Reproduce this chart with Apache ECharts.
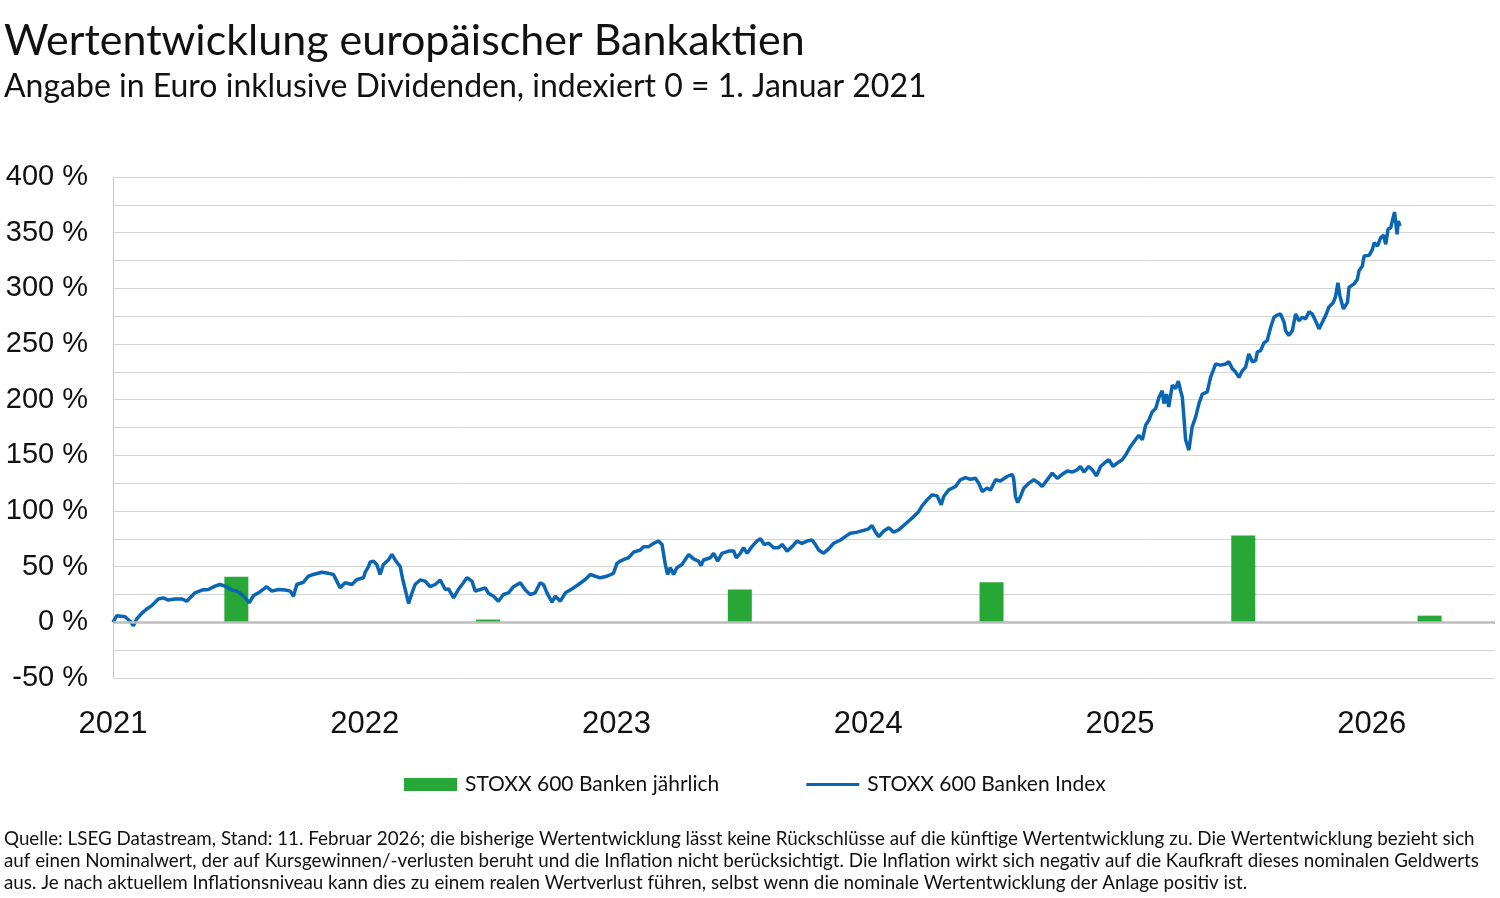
<!DOCTYPE html>
<html>
<head>
<meta charset="utf-8">
<script src="https://cdn.jsdelivr.net/npm/echarts@6/dist/echarts.min.js"></script>
<style>
html,body{margin:0;padding:0;background:#fff;}
#c{width:1500px;height:898px;}
</style>
</head>
<body>
<div id="c"></div>
<script>
// time as fractional years, values in % (indexed 0 = 1 Jan 2021)
const index2021 = [[2021.000,0],[2021.005,1],[2021.015,6],[2021.048,5],[2021.068,1],[2021.081,-3],[2021.094,3],[2021.114,8],[2021.134,12],[2021.154,15],[2021.180,21],[2021.200,22],[2021.220,20],[2021.246,21],[2021.273,21],[2021.293,19],[2021.306,22],[2021.326,26.5],[2021.353,29],[2021.379,29.5],[2021.405,32.5],[2021.425,34],[2021.445,32.5],[2021.472,29],[2021.492,28],[2021.512,25],[2021.525,22],[2021.541,17.6],[2021.558,24],[2021.578,26.5],[2021.611,32],[2021.631,28],[2021.657,29.5],[2021.684,29],[2021.704,28],[2021.717,23.5],[2021.730,34],[2021.756,36],[2021.776,41.4],[2021.796,43],[2021.829,45],[2021.856,44],[2021.876,43],[2021.889,37],[2021.902,31],[2021.922,35.5],[2021.949,34],[2021.969,38.5],[2021.995,40]];
const index2022 = [[2022.002,45],[2022.015,50],[2022.021,54],[2022.035,55],[2022.048,52],[2022.061,43],[2022.074,52],[2022.094,56],[2022.108,61],[2022.121,56],[2022.141,50],[2022.151,38.5],[2022.161,29.5],[2022.174,17],[2022.188,26.5],[2022.200,34],[2022.220,38],[2022.240,37],[2022.260,32],[2022.280,34],[2022.300,38],[2022.320,29.5],[2022.333,30],[2022.353,22],[2022.372,29.5],[2022.392,35.5],[2022.406,40],[2022.426,37],[2022.439,28],[2022.459,29.5],[2022.479,31],[2022.492,26],[2022.512,23.5],[2022.531,19],[2022.551,25],[2022.571,26.5],[2022.591,32],[2022.618,35.5],[2022.638,29],[2022.657,25],[2022.677,26.5],[2022.697,35.5],[2022.710,34],[2022.724,26.5],[2022.744,18],[2022.757,23.5],[2022.777,19],[2022.797,26.5],[2022.823,30],[2022.849,34],[2022.876,38.5],[2022.896,43],[2022.916,41.4],[2022.936,40],[2022.962,41.4],[2022.988,44]];
const index2023 = [[2023.002,53],[2023.015,55],[2023.035,57],[2023.048,58],[2023.068,63],[2023.095,65],[2023.108,68],[2023.128,68],[2023.148,71],[2023.167,73],[2023.181,70],[2023.194,52],[2023.203,43],[2023.214,49],[2023.227,43],[2023.240,49],[2023.260,52],[2023.287,61],[2023.306,57],[2023.326,55],[2023.336,51],[2023.346,56],[2023.373,58],[2023.386,62],[2023.402,55],[2023.419,62],[2023.446,64],[2023.466,64],[2023.476,58],[2023.492,62],[2023.505,67],[2023.519,62],[2023.538,68],[2023.558,73],[2023.572,75],[2023.587,70],[2023.605,71],[2023.624,67],[2023.644,67],[2023.658,70],[2023.678,64],[2023.698,68],[2023.717,73],[2023.737,71],[2023.757,73],[2023.777,74],[2023.790,70],[2023.803,65],[2023.823,62],[2023.843,66],[2023.863,71],[2023.890,74],[2023.909,77],[2023.929,80],[2023.956,81],[2023.982,82.6]];
const index2024 = [[2024.002,84],[2024.015,87],[2024.029,81],[2024.042,77],[2024.062,82],[2024.082,85],[2024.101,81],[2024.121,83],[2024.141,87],[2024.161,91],[2024.181,95],[2024.201,99.6],[2024.214,104.7],[2024.234,110],[2024.254,114.5],[2024.274,113.6],[2024.290,105.6],[2024.300,113],[2024.320,119],[2024.347,122],[2024.366,128],[2024.386,130],[2024.406,128.5],[2024.426,129.4],[2024.439,125],[2024.453,117.5],[2024.472,120.5],[2024.486,119],[2024.506,128],[2024.525,127],[2024.552,131],[2024.572,133],[2024.578,129],[2024.585,113],[2024.594,107.6],[2024.605,113],[2024.618,120.5],[2024.638,125],[2024.658,128],[2024.678,125],[2024.691,122],[2024.711,128],[2024.731,134],[2024.751,129.4],[2024.771,133],[2024.791,136],[2024.810,135],[2024.830,137],[2024.843,140],[2024.857,135],[2024.876,140],[2024.890,137],[2024.907,131.5],[2024.923,140],[2024.943,144],[2024.956,146],[2024.973,140],[2024.989,143]];
const index2025 = [[2025.009,146],[2025.022,150],[2025.042,158],[2025.055,162],[2025.075,168],[2025.089,164],[2025.102,177],[2025.115,181.6],[2025.128,189],[2025.142,192],[2025.155,202],[2025.168,208],[2025.175,196.5],[2025.185,205],[2025.194,193.5],[2025.208,213],[2025.221,210],[2025.232,216.7],[2025.241,208],[2025.248,202],[2025.254,184.5],[2025.261,163.7],[2025.274,154.7],[2025.287,175.6],[2025.301,184.5],[2025.314,196.5],[2025.327,205],[2025.347,207],[2025.360,220],[2025.380,232],[2025.400,231],[2025.420,232],[2025.433,234],[2025.446,228],[2025.459,225],[2025.473,220],[2025.486,226],[2025.499,229],[2025.512,241],[2025.526,234],[2025.539,235],[2025.546,243],[2025.559,244],[2025.572,251],[2025.585,253],[2025.599,265],[2025.612,274],[2025.625,276],[2025.638,277],[2025.652,269.5],[2025.658,262],[2025.671,257.6],[2025.685,262],[2025.698,277],[2025.711,271],[2025.725,274],[2025.738,272.6],[2025.751,279],[2025.764,277],[2025.777,271],[2025.791,263.6],[2025.804,269.5],[2025.817,275.5],[2025.830,283],[2025.848,287.4],[2025.857,293],[2025.866,305],[2025.874,293],[2025.888,281.5],[2025.904,287.4],[2025.910,300.8],[2025.930,304],[2025.943,308],[2025.950,315.8],[2025.963,320],[2025.970,329],[2025.990,329.6]];
const index2026 = [[2026.003,335],[2026.010,341],[2026.023,338],[2026.036,345.5],[2026.047,347.7],[2026.056,339.6],[2026.065,353],[2026.076,354.5],[2026.082,360.5],[2026.091,368.5],[2026.101,348.6],[2026.106,360.5],[2026.113,356]];

const barPositions = [2021.49, 2022.49, 2023.49, 2024.49, 2025.49, 2026.23];
const barValues = [41, 2.5, 29.5, 36, 78, 6];

const yearTicks = [2021, 2022, 2023, 2024, 2025, 2026];

const titleText = 'Wertentwicklung europäischer Bankaktien';
const subtitleText = 'Angabe in Euro inklusive Dividenden, indexiert 0 = 1. Januar 2021';
const footerLines = [
  'Quelle: LSEG Datastream, Stand: 11. Februar 2026; die bisherige Wertentwicklung lässt keine Rückschlüsse auf die künftige Wertentwicklung zu. Die Wertentwicklung bezieht sich',
  'auf einen Nominalwert, der auf Kursgewinnen/-verlusten beruht und die Inflation nicht berücksichtigt. Die Inflation wirkt sich negativ auf die Kaufkraft dieses nominalen Geldwerts',
  'aus. Je nach aktuellem Inflationsniveau kann dies zu einem realen Wertverlust führen, selbst wenn die nominale Wertentwicklung der Anlage positiv ist.'
];
const seriesNames = ['STOXX 600 Banken jährlich', 'STOXX 600 Banken Index'];

const lineData = [].concat(index2021, index2022, index2023, index2024, index2025, index2026);
const barData = barPositions.map((p, i) => [p, barValues[i]]);

const chart = echarts.init(document.getElementById('c'), null, {renderer: 'canvas'});
const textFont = 'Lato, "Noto Sans", sans-serif';
const axisFont = '"Liberation Sans", Arial, sans-serif';

chart.setOption({
  animation: false,
  backgroundColor: '#fff',
  grid: {left: 113, right: 5, top: 177, bottom: 220, containLabel: false},
  graphic: [
    {type: 'text', left: 4, top: 20, style: {text: titleText, font: '43px ' + textFont, fill: '#111'}},
    {type: 'text', left: 4, top: 71, style: {text: subtitleText, font: '32px ' + textFont, fill: '#111'}},
    ...footerLines.map((t, i) => ({type: 'text', left: 4, top: 829 + i * 22, style: {text: t, font: '18.8px ' + textFont, fill: '#111'}}))
  ],
  legend: {
    left: 399, top: 769,
    itemWidth: 53, itemHeight: 13, itemGap: 87,
    symbolKeepAspect: true,
    textStyle: {fontFamily: textFont, fontSize: 21, color: '#111', padding: [0, 0, 0, 3]},
    data: [
      {name: seriesNames[0], icon: 'rect'},
      {name: seriesNames[1], icon: 'path://M0,0 L53,0 L53,3 L0,3 Z'}
    ]
  },
  xAxis: {
    type: 'value', min: 2021, max: 2026.49, interval: 1,
    axisLine: {show: false}, axisTick: {show: false}, splitLine: {show: false},
    axisLabel: {
      fontFamily: axisFont, fontSize: 31, color: '#111', margin: 31,
      formatter: v => yearTicks.indexOf(Math.round(v * 1000) / 1000) >= 0 ? String(Math.round(v)) : ''
    }
  },
  yAxis: {
    type: 'value', min: -50, max: 400, interval: 25,
    axisLine: {show: true, lineStyle: {color: '#c8c8c8', width: 1}},
    axisTick: {show: false},
    splitLine: {show: true, lineStyle: {color: '#d4d4d4', width: 1}},
    axisLabel: {
      fontFamily: axisFont, fontSize: 29, color: '#111', margin: 25,
      formatter: v => (v % 50 === 0 ? v + ' %' : '')
    }
  },
  series: [
    {
      name: seriesNames[0], type: 'bar', data: barData, barWidth: 24,
      itemStyle: {color: '#27a737'}, z: 2,
      markLine: {
        silent: true, symbol: 'none', label: {show: false},
        lineStyle: {color: '#bdbdbd', width: 2.5, type: 'solid'},
        data: [{yAxis: 0}]
      }
    },
    {
      name: seriesNames[1], type: 'line', data: lineData, symbol: 'none', showSymbol: false,
      lineStyle: {color: '#0a66b2', width: 3.5}, itemStyle: {color: '#0a66b2'}, z: 3
    }
  ]
});
</script>
</body>
</html>
